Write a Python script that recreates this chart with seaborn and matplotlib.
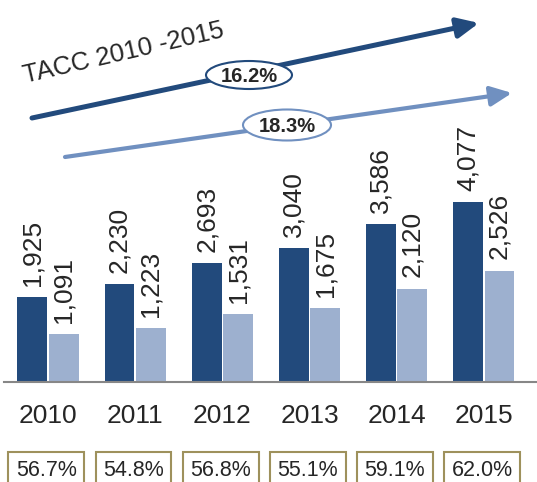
import numpy as np
import pandas as pd
import seaborn as sns
import matplotlib.pyplot as plt
from matplotlib.patches import Ellipse
from matplotlib.transforms import blended_transform_factory

years = ['2010', '2011', '2012', '2013', '2014', '2015']
total = [1925, 2230, 2693, 3040, 3586, 4077]
part = [1091, 1223, 1531, 1675, 2120, 2526]
shares = ['56.7%', '54.8%', '56.8%', '55.1%', '59.1%', '62.0%']
cagr_total = '16.2%'
cagr_part = '18.3%'

dark = '#224a7c'
light = '#9db0cf'
light_arrow = '#7090c0'

df = pd.DataFrame({'year': years * 2,
                   'value': total + part,
                   'serie': ['total'] * 6 + ['part'] * 6})

sns.set_style('white')
plt.rcParams['font.family'] = ['Liberation Sans', 'DejaVu Sans']

W, H = 537, 482
fig = plt.figure(figsize=(W / 100, H / 100), dpi=100)
ax = fig.add_axes([4 / W, 100 / H, 533 / W, 382 / H])

sns.barplot(data=df, x='year', y='value', hue='serie', order=years,
            palette=[dark, light], saturation=1, width=0.72, gap=0.05,
            linewidth=0, legend=False, ax=ax)

for c in ax.containers:
    ax.bar_label(c, fmt='{:,.0f}', rotation=90, padding=8, fontsize=19)

ax.set_xlim(-0.505, 5.61)
ax.set_ylim(0, 8662)
ax.set_xlabel('')
ax.set_ylabel('')
ax.set_yticks([])
ax.tick_params(axis='x', length=0, pad=16, labelsize=19)
for s in ['top', 'right', 'left']:
    ax.spines[s].set_visible(False)
ax.spines['bottom'].set_color('#878787')
ax.spines['bottom'].set_linewidth(1.5)

# share boxes under the years
tr = blended_transform_factory(ax.transData, fig.transFigure)
for i, s in enumerate(shares):
    ax.text(i - 0.02, 1 - 470 / H, s, transform=tr, ha='center', va='center',
            fontsize=15.5, clip_on=False,
            bbox=dict(boxstyle='square,pad=0.35', fc='white', ec='#9e915c', lw=1.5))


def px(x, y):
    return (x / W, 1 - y / H)


# growth arrows
ax.annotate('', xy=px(479, 23), xytext=px(32, 118), xycoords='figure fraction',
            textcoords='figure fraction',
            arrowprops=dict(arrowstyle='-|>,head_length=1.3,head_width=0.6',
                            lw=3.6, color=dark, shrinkA=0, shrinkB=0, mutation_scale=10))
ax.annotate('', xy=px(512, 93), xytext=px(65, 157), xycoords='figure fraction',
            textcoords='figure fraction',
            arrowprops=dict(arrowstyle='-|>,head_length=1.3,head_width=0.6',
                            lw=3.0, color=light_arrow, shrinkA=0, shrinkB=0, mutation_scale=10))

for (cx, cy, ew, eh, ec, label) in [(249, 75, 86, 28, dark, cagr_total),
                                    (287, 125, 88, 31, light_arrow, cagr_part)]:
    e = Ellipse(px(cx, cy), ew / W, eh / H, transform=fig.transFigure,
                fc='white', ec=ec, lw=1.5)
    fig.patches.append(e)
    fig.text(*px(cx, cy + 1), label, ha='center', va='center', fontsize=14.5,
             fontweight='bold')

fig.text(*px(124, 53), 'TACC 2010 -2015', rotation=13, rotation_mode='anchor',
         ha='center', va='center', fontsize=18.5)

fig.savefig('out.png', dpi=100)
